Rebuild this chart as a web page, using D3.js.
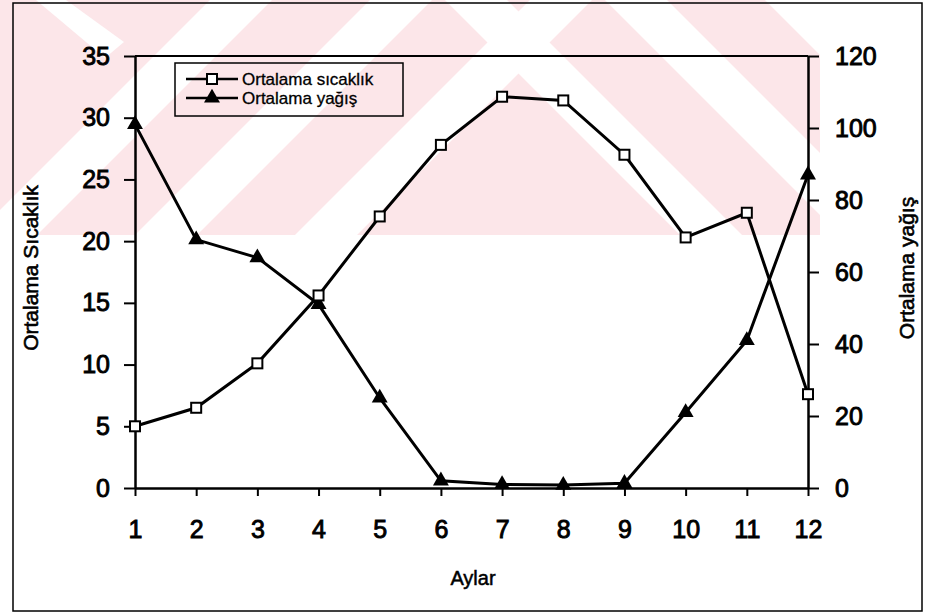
<!DOCTYPE html>
<html>
<head>
<meta charset="utf-8">
<script src="https://cdn.jsdelivr.net/npm/d3@7"></script>
<style>
  body { margin: 0; background: #fff; }
  text { font-family: "Liberation Sans", Arial, sans-serif; fill: #000; }
</style>
</head>
<body>
<div class="chart"></div>
<script>
// Data
var months = [1, 2, 3, 4, 5, 6, 7, 8, 9, 10, 11, 12];
var temperature = [5.0, 6.5, 10.1, 15.6, 22.0, 27.8, 31.7, 31.4, 27.0, 20.3, 22.3, 7.6];
var rainfall = [101, 69, 64, 51, 25, 2, 1, 0.8, 1.3, 21, 41, 87];
var leftTicks = [0, 5, 10, 15, 20, 25, 30, 35];
var rightTicks = [0, 20, 40, 60, 80, 100, 120];

var svgWidth = 931;
var svgHeight = 613;

var margin = { top: 56, right: 123, bottom: 125, left: 135 };
var width = svgWidth - margin.left - margin.right;
var height = svgHeight - margin.top - margin.bottom;

var svg = d3.select(".chart")
    .append("svg")
    .attr("width", svgWidth)
    .attr("height", svgHeight);

// faint pink watermark in the top part of the scan: pink field cut by white diagonal bands
svg.append("clipPath").attr("id", "wmclip")
    .append("rect").attr("x", 0).attr("y", 0).attr("width", 820).attr("height", 235);
var wm = svg.append("g").attr("clip-path", "url(#wmclip)");
wm.append("rect").attr("x", 0).attr("y", 0).attr("width", 820).attr("height", 235).attr("fill", "#fce6e9");
var whiteUp = [-25, 135, 295];
whiteUp.forEach(function (x0) {
    wm.append("path").attr("fill", "#fff")
        .attr("d", `M${x0},235 L${x0 + 62},235 L${x0 + 297},0 L${x0 + 235},0 Z`);
});
var whiteDown = [445, 605, 765];
whiteDown.forEach(function (x0) {
    wm.append("path").attr("fill", "#fff")
        .attr("d", `M${x0},0 L${x0 + 62},0 L${x0 + 297},235 L${x0 + 235},235 Z`);
});
wm.append("path").attr("fill", "#fff").attr("d", "M36,0 L66,0 L124,42 L105,58 Z");

// outer frame
svg.append("rect")
    .attr("x", 13).attr("y", 3)
    .attr("width", 909).attr("height", 608)
    .attr("fill", "none").attr("stroke", "#000").attr("stroke-width", 1.5);

var chartGroup = svg.append("g")
    .attr("transform", `translate(${margin.left}, ${margin.top})`);

var xScale = d3.scaleLinear().domain([1, 12]).range([0, width]);
var yLeft = d3.scaleLinear().domain([0, 35]).range([height, 0]);
var yRight = d3.scaleLinear().domain([0, 120]).range([height, 0]);

// plot top border
chartGroup.append("line")
    .attr("x1", 0).attr("x2", width).attr("y1", 0).attr("y2", 0)
    .attr("stroke", "#000").attr("stroke-width", 2);

var bottomAxis = d3.axisBottom(xScale).tickValues(months).tickSizeInner(8).tickSizeOuter(0).tickPadding(24);
var leftAxis = d3.axisLeft(yLeft).tickValues(leftTicks).tickSizeInner(11).tickSizeOuter(0).tickPadding(14);
var rightAxis = d3.axisRight(yRight).tickValues(rightTicks).tickSizeInner(11).tickSizeOuter(0).tickPadding(16);

function styleAxis(g) {
    g.select(".domain").attr("stroke", "#000").attr("stroke-width", 2.5);
    g.selectAll(".tick line").attr("stroke", "#000").attr("stroke-width", 2);
    g.selectAll(".tick text")
        .attr("font-size", 25)
        .attr("font-family", "'Liberation Sans', Arial, sans-serif")
        .attr("stroke", "#000").attr("stroke-width", 0.9);
}

chartGroup.append("g")
    .attr("transform", `translate(0, ${height})`)
    .call(bottomAxis).call(styleAxis);

chartGroup.append("g")
    .call(leftAxis).call(styleAxis);

chartGroup.append("g")
    .attr("transform", `translate(${width}, 0)`)
    .call(rightAxis).call(styleAxis);

// rainfall series
var rainLine = d3.line()
    .x((d, i) => xScale(months[i]))
    .y(d => yRight(d));

chartGroup.append("path")
    .datum(rainfall)
    .attr("d", rainLine)
    .attr("fill", "none").attr("stroke", "#000").attr("stroke-width", 3);

var tri = d3.symbol().type(d3.symbolTriangle).size(110);
chartGroup.selectAll(".rain")
    .data(rainfall)
    .enter()
    .append("path")
    .attr("class", "rain")
    .attr("d", tri)
    .attr("transform", (d, i) => `translate(${xScale(months[i])}, ${yRight(d)})`)
    .attr("fill", "#000");

// temperature series
var tempLine = d3.line()
    .x((d, i) => xScale(months[i]))
    .y(d => yLeft(d));

chartGroup.append("path")
    .datum(temperature)
    .attr("d", tempLine)
    .attr("fill", "none").attr("stroke", "#000").attr("stroke-width", 3);

chartGroup.selectAll(".temp")
    .data(temperature)
    .enter()
    .append("rect")
    .attr("class", "temp")
    .attr("x", (d, i) => xScale(months[i]) - 5)
    .attr("y", d => yLeft(d) - 5)
    .attr("width", 10).attr("height", 10)
    .attr("fill", "#fff").attr("stroke", "#000").attr("stroke-width", 2);

// axis titles
svg.append("text")
    .attr("transform", "translate(38, 268) rotate(-90)")
    .attr("text-anchor", "middle")
    .attr("font-size", 21)
    .attr("stroke", "#000").attr("stroke-width", 0.6)
    .text("Ortalama Sıcaklık");

svg.append("text")
    .attr("transform", "translate(914, 268) rotate(-90)")
    .attr("text-anchor", "middle")
    .attr("font-size", 21)
    .attr("stroke", "#000").attr("stroke-width", 0.6)
    .text("Ortalama yağış");

svg.append("text")
    .attr("x", 473).attr("y", 585)
    .attr("text-anchor", "middle")
    .attr("font-size", 20)
    .attr("stroke", "#000").attr("stroke-width", 0.5)
    .text("Aylar");

// legend
var legend = svg.append("g");
legend.append("rect")
    .attr("x", 175).attr("y", 63)
    .attr("width", 228).attr("height", 53)
    .attr("fill", "none").attr("stroke", "#000").attr("stroke-width", 1.5);

var legendNames = ["Ortalama sıcaklık", "Ortalama yağış"];
legendNames.forEach(function (name, i) {
    var ly = 79 + i * 19;
    legend.append("line")
        .attr("x1", 186).attr("x2", 238).attr("y1", ly).attr("y2", ly)
        .attr("stroke", "#000").attr("stroke-width", 2.5);
    if (i === 0) {
        legend.append("rect")
            .attr("x", 207).attr("y", ly - 5).attr("width", 10).attr("height", 10)
            .attr("fill", "#fff").attr("stroke", "#000").attr("stroke-width", 2);
    } else {
        legend.append("path")
            .attr("d", tri)
            .attr("transform", `translate(212, ${ly})`)
            .attr("fill", "#000");
    }
    legend.append("text")
        .attr("x", 242).attr("y", ly + 6)
        .attr("font-size", 17)
        .attr("stroke", "#000").attr("stroke-width", 0.3)
        .text(name);
});
</script>
</body>
</html>
